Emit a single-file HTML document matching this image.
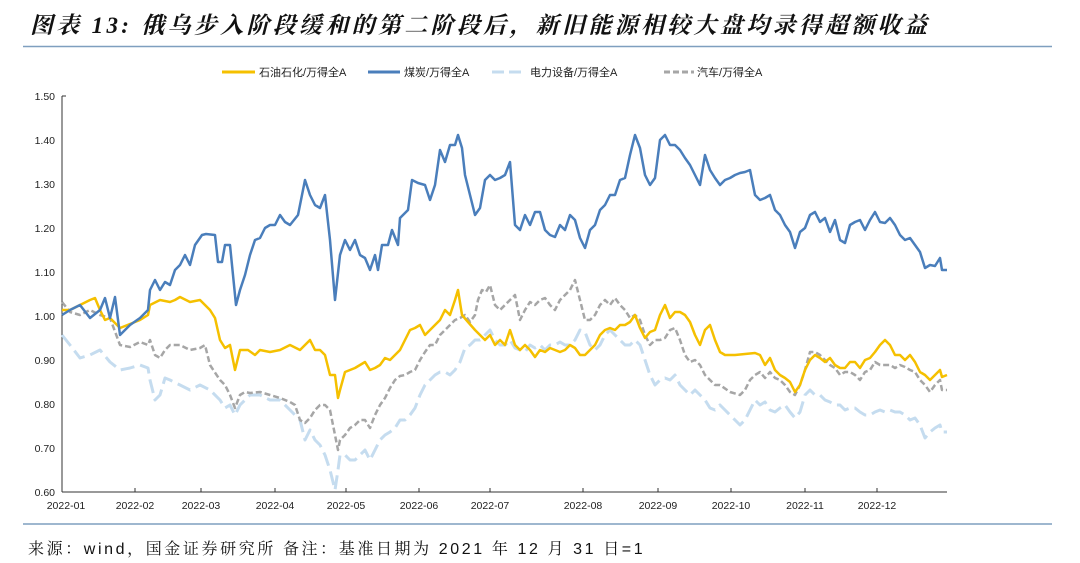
<!DOCTYPE html>
<html><head><meta charset="utf-8"><style>
body{margin:0;background:#fff;width:1080px;height:563px;overflow:hidden;font-family:"Liberation Sans","Noto Sans CJK SC",sans-serif}
</style></head><body>
<svg width="1080" height="563" xmlns="http://www.w3.org/2000/svg" style="position:absolute;left:0;top:0">
<text x="30" y="33" font-size="23" font-weight="bold" font-style="italic" letter-spacing="3.3" font-family="Liberation Serif,Noto Serif CJK SC,serif" fill="#111">图表 13:  俄乌步入阶段缓和的第二阶段后，新旧能源相较大盘均录得超额收益</text>
<line x1="23" y1="46.5" x2="1052" y2="46.5" stroke="#7f9fbf" stroke-width="1.5"/>
<g font-size="11" fill="#222">
<line x1="222" y1="72" x2="255" y2="72" stroke="#f5c000" stroke-width="3"/><text x="259" y="76">石油石化/万得全A</text>
<line x1="368" y1="72" x2="400" y2="72" stroke="#4a7ebb" stroke-width="3"/><text x="404" y="76">煤炭/万得全A</text>
<line x1="492" y1="72" x2="526" y2="72" stroke="#c5dcef" stroke-width="3" stroke-dasharray="12 5"/><text x="530" y="76">电力设备/万得全A</text>
<line x1="664" y1="72" x2="694" y2="72" stroke="#a6a6a6" stroke-width="3" stroke-dasharray="6 3"/><text x="697" y="76">汽车/万得全A</text>
</g>
<g font-size="10.5" fill="#222" text-anchor="end">
<text x="55" y="100">1.50</text><text x="55" y="144">1.40</text><text x="55" y="188">1.30</text><text x="55" y="232">1.20</text><text x="55" y="276">1.10</text><text x="55" y="320">1.00</text><text x="55" y="364">0.90</text><text x="55" y="408">0.80</text><text x="55" y="452">0.70</text><text x="55" y="496">0.60</text>
</g>
<g font-size="10.5" fill="#222" text-anchor="middle">
<text x="66" y="509">2022-01</text><text x="135" y="509">2022-02</text><text x="201" y="509">2022-03</text><text x="275" y="509">2022-04</text><text x="346" y="509">2022-05</text><text x="419" y="509">2022-06</text><text x="490" y="509">2022-07</text><text x="583" y="509">2022-08</text><text x="658" y="509">2022-09</text><text x="731" y="509">2022-10</text><text x="805" y="509">2022-11</text><text x="877" y="509">2022-12</text>
</g>
<g stroke="#333" stroke-width="1">
<line x1="62" y1="96" x2="62" y2="492"/><line x1="62" y1="96" x2="66" y2="96"/><line x1="62" y1="492" x2="947" y2="492"/>
<line x1="135" y1="492" x2="135" y2="488"/><line x1="201" y1="492" x2="201" y2="488"/><line x1="275" y1="492" x2="275" y2="488"/><line x1="346" y1="492" x2="346" y2="488"/><line x1="419" y1="492" x2="419" y2="488"/><line x1="490" y1="492" x2="490" y2="488"/><line x1="583" y1="492" x2="583" y2="488"/><line x1="658" y1="492" x2="658" y2="488"/><line x1="731" y1="492" x2="731" y2="488"/><line x1="805" y1="492" x2="805" y2="488"/><line x1="877" y1="492" x2="877" y2="488"/>
</g>
<g fill="none" stroke-linejoin="round">
<polyline stroke="#c5dcef" stroke-width="3" stroke-dasharray="14 6" points="62,335 70,345 80,358 90,355 100,350 110,362 120,370 130,368 140,365 148,368 150,380 155,400 160,395 165,378 170,380 180,385 190,390 200,385 210,390 220,400 225,408 230,405 235,415 240,405 250,395 260,395 270,400 280,400 290,410 300,420 305,440 310,430 315,440 320,445 325,455 330,470 335,490 338,470 340,455 345,455 350,460 355,460 360,455 365,450 370,460 375,450 380,440 385,435 390,432 395,428 400,420 405,420 410,415 415,408 420,395 425,385 430,380 435,375 440,372 445,372 450,375 455,370 460,362 465,348 470,345 475,340 480,340 485,335 490,330 495,340 500,345 505,345 510,340 515,348 520,350 525,352 530,345 535,348 540,345 545,350 550,345 555,345 560,342 565,345 570,345 575,340 580,330 585,332 590,345 595,350 600,345 605,335 610,330 615,335 620,340 625,345 630,345 635,340 640,345 645,360 650,375 655,385 660,380 665,378 670,380 675,375 680,385 685,390 690,395 695,390 700,395 705,400 710,408 715,410 720,405 725,410 730,415 735,420 740,425 745,420 750,410 755,400 760,405 765,402 770,410 775,412 780,408 785,405 790,412 795,418 800,412 805,395 810,390 815,395 820,395 825,400 830,402 835,405 840,405 845,410 850,408 855,408 860,412 865,415 870,415 875,412 880,410 885,412 890,410 895,412 900,412 905,415 910,420 915,418 920,425 925,438 930,432 935,428 940,425 942,432 947,432"/>
<polyline stroke="#a6a6a6" stroke-width="2.5" stroke-dasharray="6 3" points="62,302 70,312 80,315 90,310 100,315 110,318 120,345 130,347 140,342 148,345 150,340 155,355 160,358 165,350 170,345 180,345 190,350 200,348 205,345 210,365 220,380 225,385 230,395 235,408 240,395 245,392 250,393 260,392 270,395 280,398 290,402 295,405 300,420 305,423 310,418 315,410 320,405 325,405 330,410 335,435 338,450 340,440 345,435 350,428 355,425 360,420 365,420 370,428 375,415 380,405 385,398 390,388 395,380 400,376 405,375 410,372 415,370 420,360 425,352 430,345 435,345 440,335 445,330 450,325 455,320 460,318 465,315 470,322 475,315 478,300 482,290 486,292 490,285 495,305 500,310 505,305 510,300 515,295 520,320 525,310 530,302 535,305 540,300 545,298 550,305 555,310 560,300 565,295 570,290 575,280 580,300 585,320 590,320 595,315 600,305 605,300 610,305 615,298 620,305 625,310 630,318 635,315 640,320 645,335 650,345 655,340 660,340 665,338 670,330 675,328 680,340 685,355 690,362 695,360 700,365 705,375 710,380 715,385 720,385 730,392 740,395 745,390 750,380 755,375 760,372 765,378 770,372 775,378 780,380 785,385 790,392 795,395 800,385 805,370 810,352 815,352 820,355 825,360 830,365 835,368 840,375 845,372 850,372 855,375 860,380 865,372 870,370 875,362 880,365 885,365 890,365 895,368 900,365 905,367 910,370 915,372 920,380 925,385 930,392 935,385 940,380 942,390 947,390"/>
<polyline stroke="#f5c000" stroke-width="2.5" points="62,310 70,310 80,305 90,300 95,298 100,310 105,320 110,318 120,328 130,324 140,320 148,315 150,305 160,300 170,302 175,300 180,297 190,302 200,300 210,310 215,318 220,340 225,348 230,345 235,370 240,350 248,350 255,355 260,350 270,352 280,350 290,345 300,350 305,345 310,340 315,350 320,350 325,355 330,375 335,375 338,398 340,390 345,372 350,370 355,368 360,365 365,362 370,370 375,368 380,365 385,358 390,360 395,355 400,350 405,340 410,330 415,328 420,325 425,335 430,330 440,320 445,310 450,315 455,300 458,290 462,315 468,322 475,330 480,335 485,340 490,335 495,345 500,340 505,345 510,330 515,345 520,350 525,345 530,350 535,357 540,350 545,352 550,348 555,350 560,352 565,350 570,345 575,348 580,355 585,355 590,350 595,345 600,335 605,330 610,328 615,330 620,325 625,325 630,322 635,315 640,328 645,338 650,332 655,330 660,315 665,305 670,318 675,312 680,312 685,315 690,322 695,335 700,345 705,330 710,325 715,340 720,352 725,355 735,355 745,354 755,353 760,355 765,365 770,358 775,370 780,375 785,378 790,382 795,392 800,385 805,370 810,360 815,355 820,358 825,362 830,358 835,365 840,368 845,368 850,362 855,362 860,368 865,360 870,358 875,352 880,345 885,340 890,345 895,355 900,355 905,360 910,355 915,362 920,372 925,375 930,380 935,375 940,370 942,377 947,375"/>
<polyline stroke="#4a7ebb" stroke-width="2.5" points="62,315 70,310 80,305 90,318 100,310 105,298 110,318 115,297 120,335 130,325 140,318 148,310 150,290 155,280 160,290 165,282 170,285 175,270 180,265 185,255 190,265 195,245 202,235 206,234 215,235 218,262 222,262 225,245 230,245 236,305 240,290 245,275 250,255 255,240 260,238 265,228 270,225 275,225 280,215 285,222 290,225 298,215 305,180 310,195 315,205 320,208 325,195 330,240 335,300 340,255 345,240 350,250 355,240 360,255 365,258 370,270 375,255 378,270 382,245 388,245 392,230 398,245 400,218 408,210 412,180 418,183 425,185 430,200 435,185 440,150 445,162 450,145 455,145 458,135 462,148 465,175 470,195 475,215 480,208 485,180 490,175 495,180 500,178 505,175 510,162 515,225 520,230 525,215 530,225 535,212 540,212 545,230 550,235 555,237 560,225 565,230 570,215 575,220 580,238 585,248 590,230 595,225 600,210 605,205 610,195 615,195 620,180 625,178 630,155 635,135 640,148 645,175 650,185 655,178 660,140 665,135 670,145 675,145 680,150 685,158 690,165 695,175 700,185 705,155 710,170 715,178 720,185 725,180 730,178 735,175 740,173 745,172 750,170 755,195 760,200 765,198 770,195 775,210 780,215 785,225 790,232 795,248 800,232 805,228 810,215 815,212 820,222 825,218 830,232 835,220 840,240 845,243 850,225 855,222 860,220 865,230 870,220 875,212 880,222 885,223 890,218 895,225 900,235 905,240 910,238 915,245 920,252 925,268 930,265 935,266 940,258 942,270 947,270"/>
</g>
<line x1="23" y1="524" x2="1052" y2="524" stroke="#7f9fbf" stroke-width="1.5"/>
<text x="28" y="554" font-size="16" letter-spacing="2.6" font-family="Liberation Sans,Noto Serif CJK SC,serif" fill="#111">来源：wind，国金证券研究所 备注：基准日期为 2021 年 12 月 31 日=1</text>
</svg>
</body></html>
